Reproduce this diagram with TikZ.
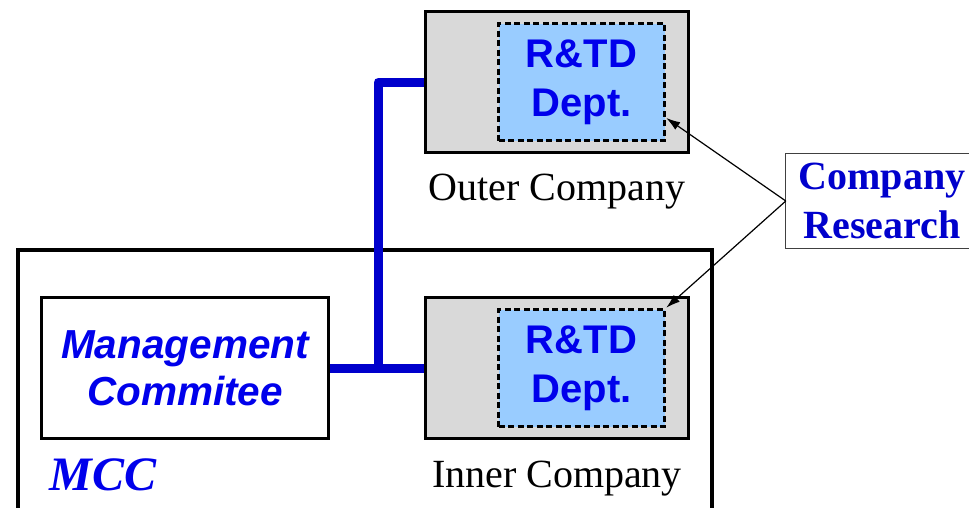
\documentclass[tikz,border=0pt]{standalone}
\usepackage{fontspec}
\setmainfont{Liberation Serif}
\setsansfont{Liberation Sans}
\usetikzlibrary{arrows.meta}
\definecolor{deptblue}{RGB}{153,204,255}
\definecolor{boxgray}{RGB}{217,217,217}
\definecolor{textblue}{RGB}{0,0,235}
\definecolor{lineblue}{RGB}{0,0,204}
\tikzset{
	company/.style={draw, line width=3pt, fill=boxgray, minimum width=263pt, minimum height=141pt, inner sep=0pt},
	dept/.style={draw, line width=3.5pt, dash pattern=on 6pt off 3.5pt, fill=deptblue, minimum width=166pt, minimum height=117pt, inner sep=0pt, align=center, text=textblue, font=\sffamily\bfseries\fontsize{40}{49}\selectfont},
	mgmt/.style={draw, line width=3pt, fill=white, minimum width=287pt, minimum height=141pt, inner sep=0pt, align=center, text=textblue, font=\sffamily\bfseries\itshape\fontsize{40.5}{47}\selectfont},
	colabel/.style={anchor=base, font=\fontsize{40}{44}\selectfont},
	research/.style={minimum width=192pt, minimum height=95pt, inner sep=0pt, align=center, text=lineblue, font=\bfseries\fontsize{40}{49}\selectfont},
	frame/.style={draw=black!75, line width=1pt},
	link/.style={line width=9pt, lineblue, line join=round},
	pointer/.style={line width=1.2pt, -{Latex[length=14pt,width=9pt]}}
}
\begin{document}
\begin{tikzpicture}[x=1pt, y=-1pt]
	\useasboundingbox (0,0) rectangle (969,507);
	\clip (0,0) rectangle (969,507);
	
	% MCC frame
	\draw[line width=4pt] (18,560) -- (18,250) -- (712,250) -- (712,560);
	\node[anchor=base west, text=textblue, font=\bfseries\itshape\fontsize{48}{48}\selectfont] (mcc) at (46,490) {MCC};
	
	\node[mgmt] (mgmt) at (185,368) {Management\\Commitee};
	
	\node[company] (outerco) at (557,82) {};
	\node[dept] (outerdept) at (581.5,82) {R\&TD\\Dept.};
	\node[colabel] (outerlabel) at (557,200) {Outer Company};
	
	\node[company] (innerco) at (557,368) {};
	\node[dept] (innerdept) at (581.5,368) {R\&TD\\Dept.};
	\node[colabel] (innerlabel) at (557,487) {Inner Company};
	
	% box runs past the right edge
	\node[research] (research) at (882,201) {Company\\Research};
	\draw[frame] ([xshift=40pt]research.north east) -- (research.north west)
		-- (research.south west) -- ([xshift=40pt]research.south east);
	
	\coordinate (joint) at (378,368);
	\draw[link] (mgmt) -- (innerco);
	\draw[link] (joint) |- (outerco.west);
	
	\draw[pointer] (research.west) -- (outerdept.-23);
	\draw[pointer] (research.west) -- (innerdept.north east);
\end{tikzpicture}
\end{document}
